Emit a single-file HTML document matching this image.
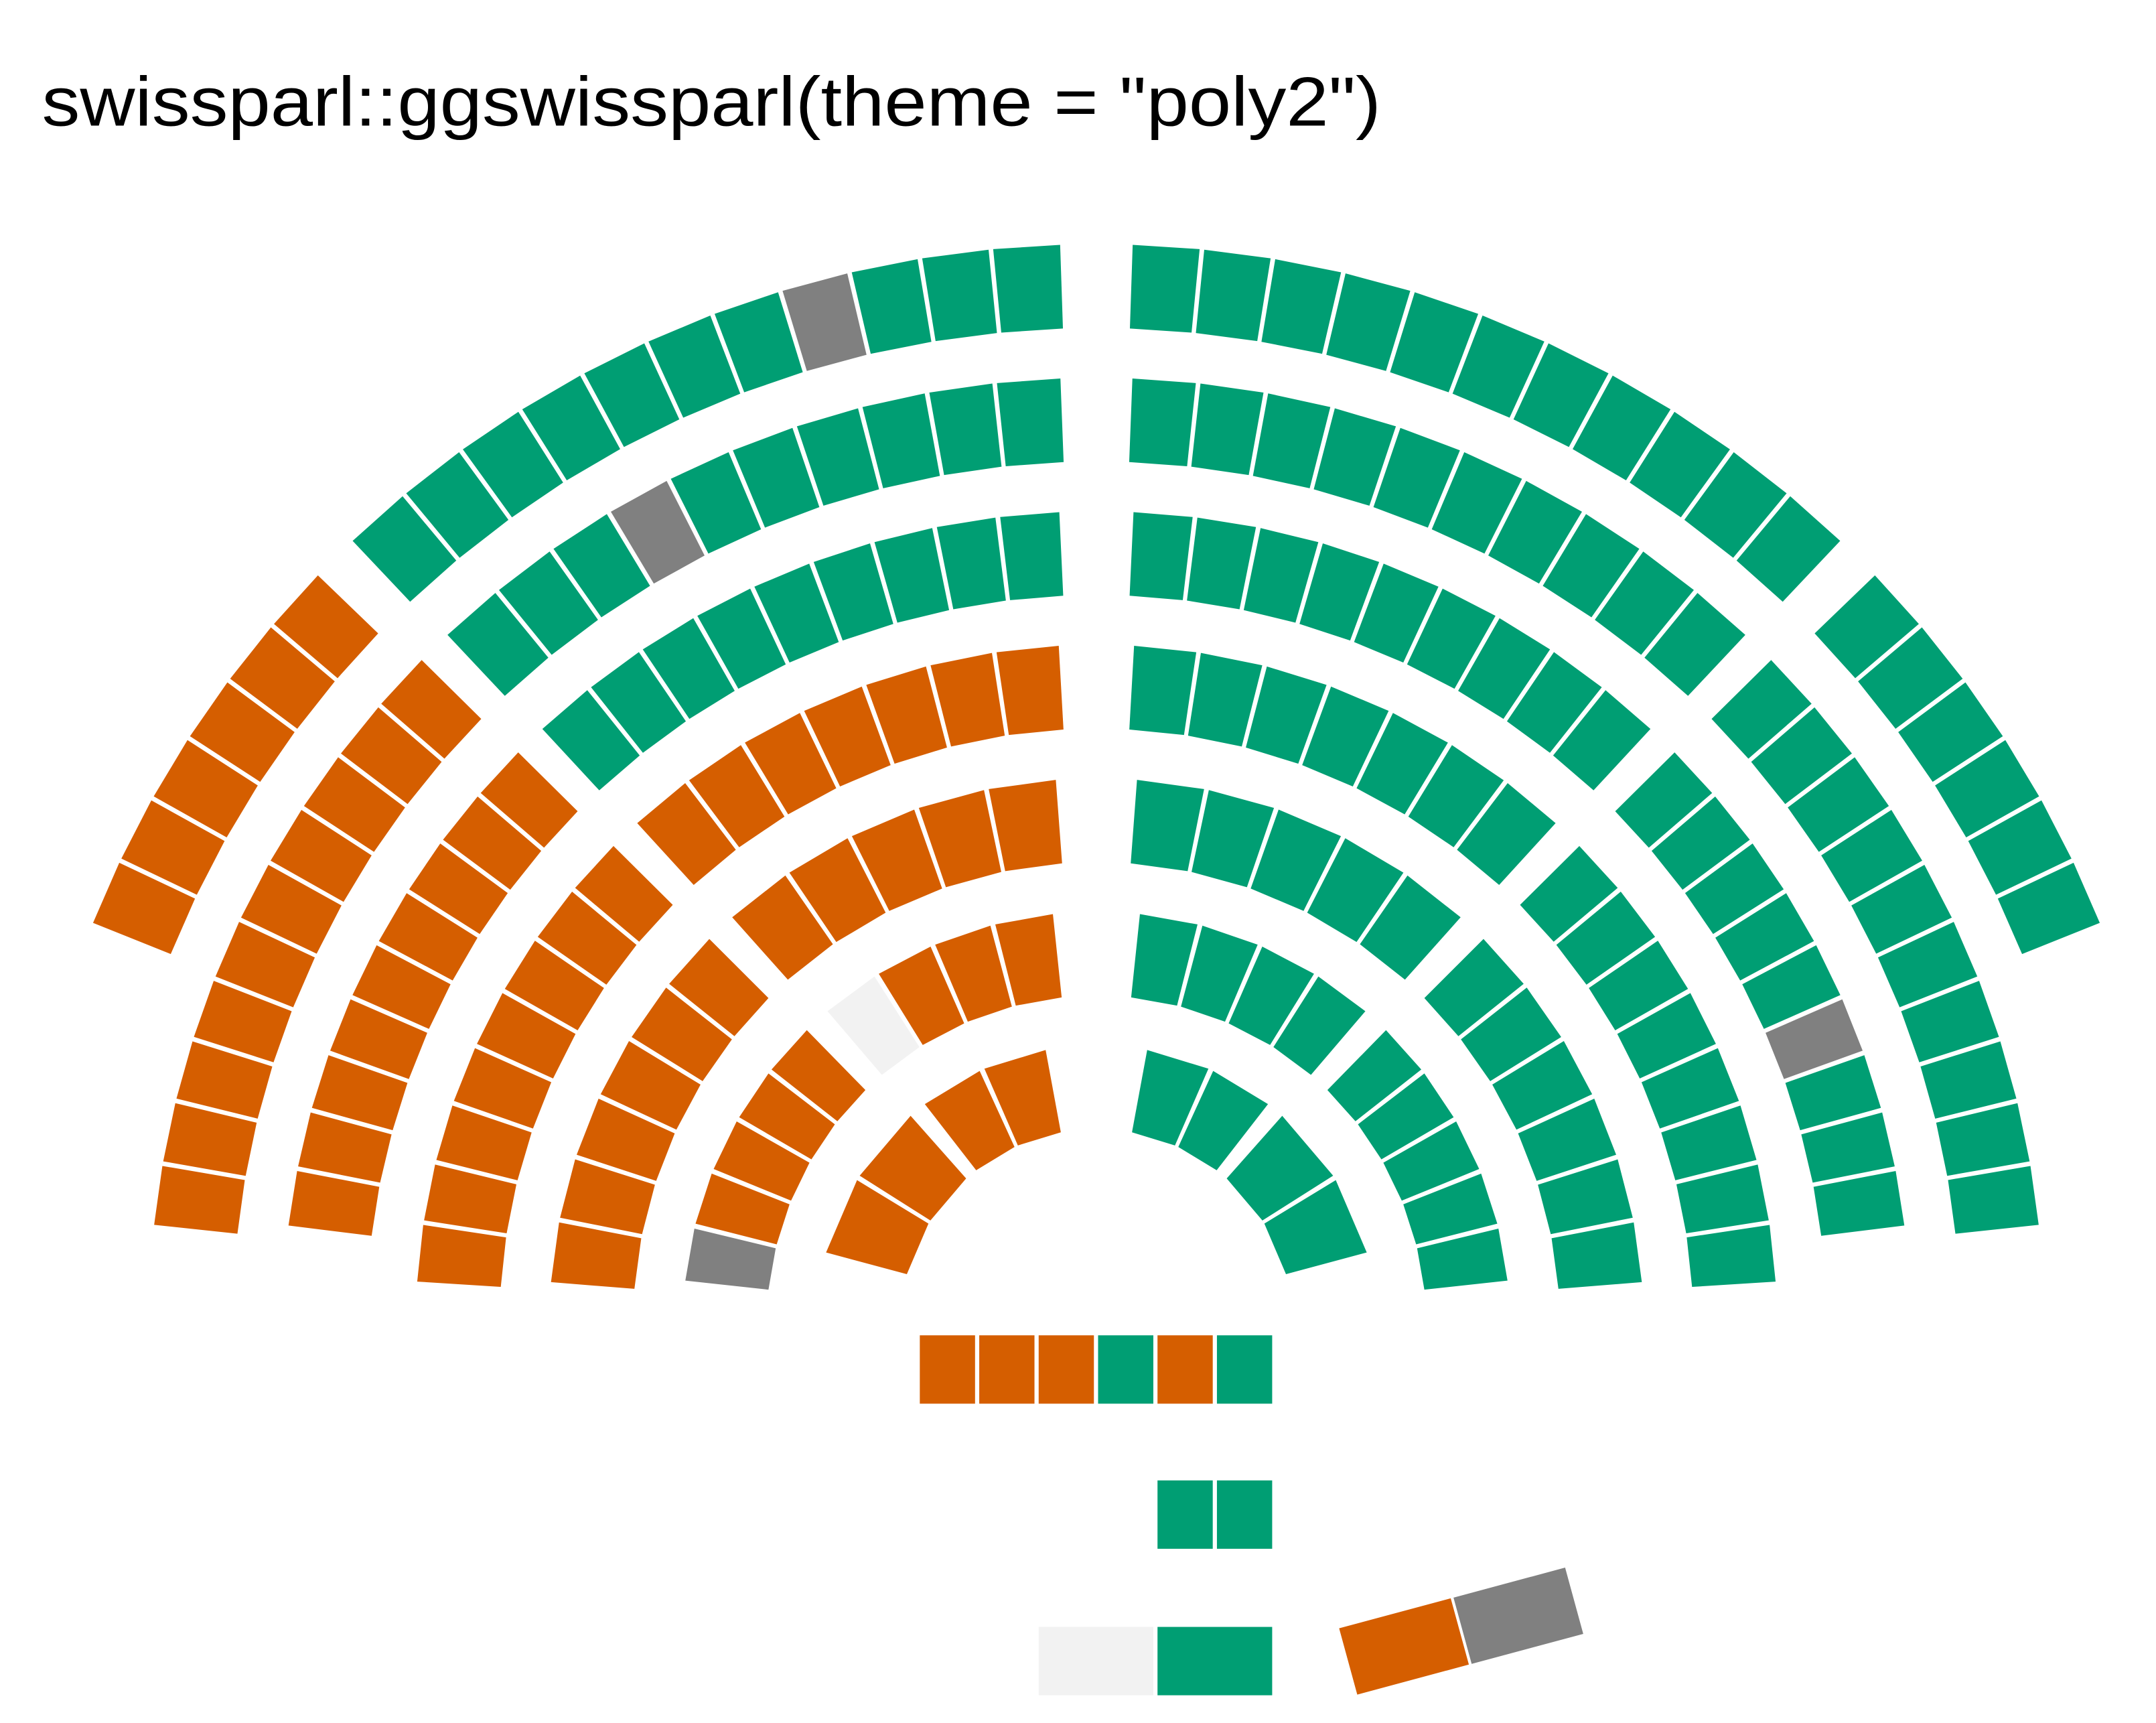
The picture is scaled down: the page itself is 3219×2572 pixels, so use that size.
<!DOCTYPE html>
<html>
<head>
<meta charset="utf-8">
<style>
  html,body{margin:0;padding:0;background:#fff;}
  svg{display:block;}
</style>
</head>
<body>
<svg id="chart" xmlns="http://www.w3.org/2000/svg" width="3219" height="2572" viewBox="0 0 1545.6 1234.8">
  <rect x="0" y="0" width="1545.6" height="1234.8" fill="#ffffff"/>
  <text x="30" y="90" font-family="Liberation Sans, sans-serif" font-size="50" fill="#000" textLength="960" lengthAdjust="spacingAndGlyphs">swissparl::ggswissparl(theme = "poly2")</text>
  <g id="seats"></g>
  <g id="extra"></g>
</svg>
<script>
// Party color codes: O = orange, G = green, X = gray, L = light gray
const segSide   = ["L","L","L","L","L","L","L", "L","L","L","L","L","L","L", "R","R","R","R","R","R","R", "R","R","R","R","R","R","R"];
const segRow    = [0,1,2,3,4,5,6, 0,1,2,3,4,5,6, 0,1,2,3,4,5,6, 0,1,2,3,4,5,6];
const segStart  = [23.6,7.9,9.0,6.1,7.7,9.9,23.2, 48.3,48.7,49.2,50.2,51.8,53.5,58.8, 23.6,7.9,9.0,6.1,7.7,9.9,23.2, 48.3,48.7,49.2,50.2,51.8,53.5,58.8];
const segEnd    = [42.2,42.8,42.8,42.4,41.8,41.9,40.4, 86.3,85.9,85.3,84.2,82.2,79.9,73.0, 42.2,42.8,42.8,42.4,41.8,41.9,40.4, 86.3,85.9,85.3,84.2,82.2,79.9,73.0];
const segSeats  = [
  "OOOOOO","OOOOOOOOOO","OOOOOOOOO","OOOOOOOO","OOOOOO","XOOOO","OO",
  "GGGGGGGXGGG","GGGXGGGGGG","GGGGGGGGG","OOOOOOO","OOOOO","LOOO","OO",
  "GGGGGG","GGGGGGGGGG","GGGXGGGGG","GGGGGGGG","GGGGGG","GGGGG","GG",
  "GGGGGGGGGGG","GGGGGGGGGG","GGGGGGGGG","GGGGGGG","GGGGG","GGGG","GG"
];
const extraRow1 = ["O","O","O","G","O","G"];
const extraRow2 = ["G","G"];
const extraRow3 = ["L","G"];
const extraTilted = ["O","X"];

const colors = {O:"#D55E00", G:"#009E73", X:"#808080", L:"#F2F2F2"};
const CX = 786, CY = 950, R0 = 745, RSTEP = 95.7, DEPTH = 60;
const NS = "http://www.w3.org/2000/svg";
const seatsG = document.getElementById("seats");
const extraG = document.getElementById("extra");

function rowRadius(k){ return R0 - RSTEP*k; }
function polar(side, r, deg){
  const a = deg*Math.PI/180;
  const dx = r*Math.cos(a);
  return [side==="L" ? CX-dx : CX+dx, CY - r*Math.sin(a)];
}

for (let s=0; s<segSeats.length; s++){
  const seats = segSeats[s];
  const n = seats.length;
  const r = rowRadius(segRow[s]);
  const spacing = n>1 ? (segEnd[s]-segStart[s])/(n-1) : 4;
  const gapDeg = (1.6/r)*180/Math.PI;
  const h = spacing/2 - gapDeg;
  for (let i=0; i<n; i++){
    const a = segStart[s] + spacing*i;
    const pts = [polar(segSide[s], r-DEPTH/2, a-h), polar(segSide[s], r+DEPTH/2, a-h),
                 polar(segSide[s], r+DEPTH/2, a+h), polar(segSide[s], r-DEPTH/2, a+h)];
    const p = document.createElementNS(NS, "polygon");
    p.setAttribute("points", pts.map(q=>q[0].toFixed(1)+","+q[1].toFixed(1)).join(" "));
    p.setAttribute("fill", colors[seats[i]]);
    
    
    seatsG.appendChild(p);
  }
}

// extra rows of seats below the hemicycle
function boxRow(arr, xRight, y, w, widths){
  let x = xRight;
  for (let i=arr.length-1; i>=0; i--){
    const bw = widths ? widths[i] : w;
    const rc = document.createElementNS(NS, "rect");
    rc.setAttribute("x", x-bw);
    rc.setAttribute("y", y);
    rc.setAttribute("width", bw-3);
    rc.setAttribute("height", 49);
    rc.setAttribute("fill", colors[arr[i]]);
    
    
    extraG.appendChild(rc);
    x -= bw;
  }
}
boxRow(extraRow1, 915, 957, 42.6);
boxRow(extraRow2, 915, 1061, 42.6);
boxRow(extraRow3, 915, 1166, 0, [85.2, 85.2]);

// tilted pair
const tiltOrigin = [960, 1167], tiltU = [80, -21.5], tiltV = [13, 47.5];
for (let i=0; i<extraTilted.length; i++){
  const ox = tiltOrigin[0] + tiltU[0]*i*1.025, oy = tiltOrigin[1] + tiltU[1]*i*1.025;
  const pts = [[ox,oy],[ox+tiltU[0],oy+tiltU[1]],[ox+tiltU[0]+tiltV[0],oy+tiltU[1]+tiltV[1]],[ox+tiltV[0],oy+tiltV[1]]];
  const p = document.createElementNS(NS, "polygon");
  p.setAttribute("points", pts.map(q=>q[0].toFixed(1)+","+q[1].toFixed(1)).join(" "));
  p.setAttribute("fill", colors[extraTilted[i]]);
  
  
  extraG.appendChild(p);
}
</script>
</body>
</html>
